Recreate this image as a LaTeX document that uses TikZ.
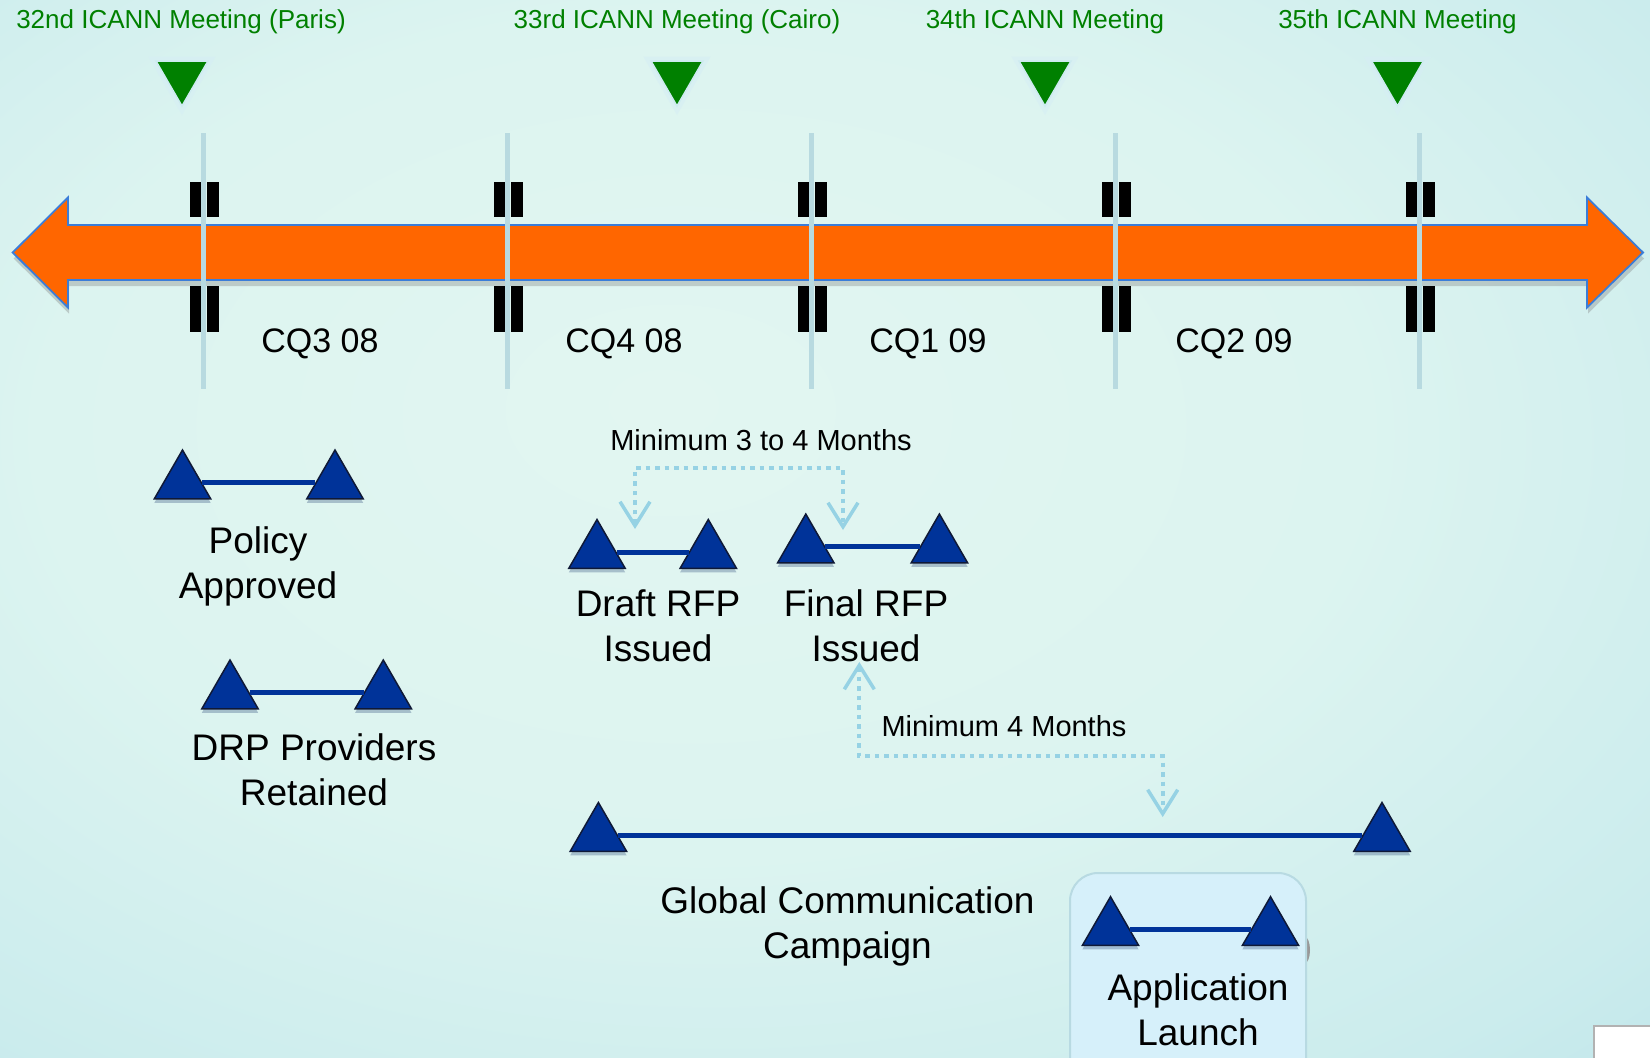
\documentclass[tikz,border=0pt]{standalone}
\usepackage{fontspec}
\usepackage{graphicx}
\setmainfont{Liberation Sans}
\usetikzlibrary{shapes.geometric,arrows.meta,shadows}
\definecolor{orangeA}{RGB}{255,102,0}
\definecolor{arrowEdge}{RGB}{59,125,216}
\definecolor{tickC}{RGB}{184,218,224}
\definecolor{mtgGreen}{RGB}{0,128,0}
\definecolor{mtgEdge}{RGB}{205,235,240}
\definecolor{mtgGlow}{RGB}{214,238,244}
\definecolor{navy}{RGB}{0,51,153}
\definecolor{navyEdge}{RGB}{15,25,55}
\definecolor{connC}{RGB}{150,210,228}
\definecolor{boxFill}{RGB}{214,240,250}
\definecolor{boxEdge}{RGB}{184,218,226}
\definecolor{bgA}{RGB}{226,246,241}
\definecolor{bgB}{RGB}{220,244,240}
\definecolor{bgC}{RGB}{203,236,237}
\definecolor{bgD}{RGB}{178,222,231}
\definecolor{bgE}{RGB}{145,196,212}
\definecolor{bgF}{RGB}{105,162,184}
\pgfdeclareradialshading{bgshade}{\pgfpoint{-5bp}{6bp}}{color(0bp)=(bgA); color(20bp)=(bgB); color(35bp)=(bgC); color(50bp)=(bgD); color(65bp)=(bgE); color(80bp)=(bgF)}
\begin{document}
\begin{tikzpicture}[x=1pt,y=-1pt,
  hdr/.style={anchor=base, inner sep=0pt, text=mtgGreen, font=\fontsize{26}{31}\selectfont},
  cq/.style={anchor=base, inner sep=0pt, font=\fontsize{34}{40}\selectfont},
  lbl/.style={anchor=base, inner sep=0pt, font=\fontsize{37}{44}\selectfont},
  note/.style={anchor=base, inner sep=0pt, font=\fontsize{29}{34}\selectfont},
  mtg/.style={regular polygon, regular polygon sides=3, shape border rotate=180, minimum size=60, inner sep=0pt, fill=mtgGreen, draw=mtgEdge, line width=1.5pt, preaction={draw=mtgGlow, line width=9pt, opacity=0.6}},
  ms/.style={regular polygon, regular polygon sides=3, minimum size=65, inner sep=0pt, fill=navy, draw=navyEdge, line width=1.5pt, drop shadow={opacity=0.25, shadow xshift=0pt, shadow yshift=-4pt, fill=navy!60!black}},
  span/.style={navy, line width=5pt},
  conn/.style={connC, line width=4.2pt, dash pattern=on 4.5pt off 5pt, >={Straight Barb[length=24pt,width=30pt,line width=3.5pt]}, <->},
  appbox/.style={draw=boxEdge, fill=boxFill, line width=2pt, rounded corners=28pt, anchor=north west, minimum width=236, minimum height=220, inner sep=0pt}
]
\useasboundingbox (0,0) rectangle (1650,1058);
\shade[shading=bgshade] (0,0) rectangle (1650,1058);

% timeline arrow
\path[fill=orangeA, draw=arrowEdge, line width=1.8pt, line join=miter,
  drop shadow={opacity=0.35, shadow xshift=1pt, shadow yshift=-6pt}]
  (12.7,252.5) -- (68,197.5) -- (68,225) -- (1587,225) -- (1587,197.5)
  -- (1643,252.5) -- (1587,307.5) -- (1587,280) -- (68,280) -- (68,307.5) -- cycle;

% break bars and quarter ticks
\foreach \t in {203,507,811,1115,1419} {
  \fill[black] (\t-13.5,182) rectangle (\t-2,217);
  \fill[black] (\t+3.5,182) rectangle (\t+15.5,217);
  \fill[black] (\t-13.5,286) rectangle (\t-2,332);
  \fill[black] (\t+3.5,286) rectangle (\t+15.5,332);
  \draw[tickC, line width=5pt] (\t,133) -- (\t,389);
}

% meeting markers and headers
\node[mtg] (m1) at (182,76) {};
\node[mtg] (m2) at (677,76) {};
\node[mtg] (m3) at (1045,76) {};
\node[mtg] (m4) at (1397.5,76) {};
\node[hdr] (h1) at (181,28.5) {32nd ICANN Meeting (Paris)};
\node[hdr] (h2) at (677,28.5) {33rd ICANN Meeting (Cairo)};
\node[hdr] (h3) at (1045,28.5) {34th ICANN Meeting};
\node[hdr] (h4) at (1397.5,28.5) {35th ICANN Meeting};

% quarter labels
\node[cq] (q1) at (320,352) {CQ3 08};
\node[cq] (q2) at (624,352) {CQ4 08};
\node[cq] (q3) at (928,352) {CQ1 09};
\node[cq] (q4) at (1234,352) {CQ2 09};

% dotted interval connectors
\node[note] (n1) at (761,450) {Minimum 3 to 4 Months};
\coordinate (ua) at (635,529);
\coordinate (ub) at (843,530);
\draw[conn] (ua) -- (635,468) -- (843,468) -- (ub);

\node[note] (n2) at (1004,736.7) {Minimum 4 Months};
\coordinate (la) at (859.3,662);
\coordinate (lb) at (1162.7,817);
\draw[conn] (la) -- (859.3,756) -- (1162.7,756) -- (lb);

% application launch box
\fill[gray!80] (1305,950) ellipse[x radius=5, y radius=13];
\node[appbox] (box) at (1069,872) {};
\draw[fill=white, draw=gray!60, line width=1.5pt] (1594,1026) rectangle (1665,1075);

% milestones
\node[ms] (polL) at (182.5,482.5) {};
\node[ms] (polR) at (335,482.5) {};
\draw[span] (polL) -- (polR);
\node[lbl] (pol1) at (258,553) {Policy};
\node[lbl] (pol2) at (258,598) {Approved};

\node[ms] (drpL) at (230,692.5) {};
\node[ms] (drpR) at (383.3,692.5) {};
\draw[span] (drpL) -- (drpR);
\node[lbl] (drp1) at (314,760) {DRP Providers};
\node[lbl] (drp2) at (314,805) {Retained};

\node[ms] (drfL) at (597,552) {};
\node[ms] (drfR) at (708.3,552) {};
\draw[span] (drfL) -- (drfR);
\node[lbl] (drf1) at (658,616.7) {Draft RFP};
\node[lbl] (drf2) at (658,661.7) {Issued};

\node[ms] (finL) at (805.8,546.5) {};
\node[ms] (finR) at (939.4,546.5) {};
\draw[span] (finL) -- (finR);
\node[lbl] (fin1) at (866,616.7) {Final RFP};
\node[lbl] (fin2) at (866,661.7) {Issued};

\node[ms] (glbL) at (598.4,835) {};
\node[ms] (glbR) at (1382,835) {};
\draw[span] (glbL) -- (glbR);
\node[lbl] (glb1) at (847.5,913) {Global Communication};
\node[lbl] (glb2) at (847.5,958) {Campaign};

\node[ms] (appL) at (1110.5,929.2) {};
\node[ms] (appR) at (1270.5,929.2) {};
\draw[span] (appL) -- (appR);
\node[lbl] (app1) at (1198,1000) {Application};
\node[lbl] (app2) at (1198,1045) {Launch};
\end{tikzpicture}
\end{document}
